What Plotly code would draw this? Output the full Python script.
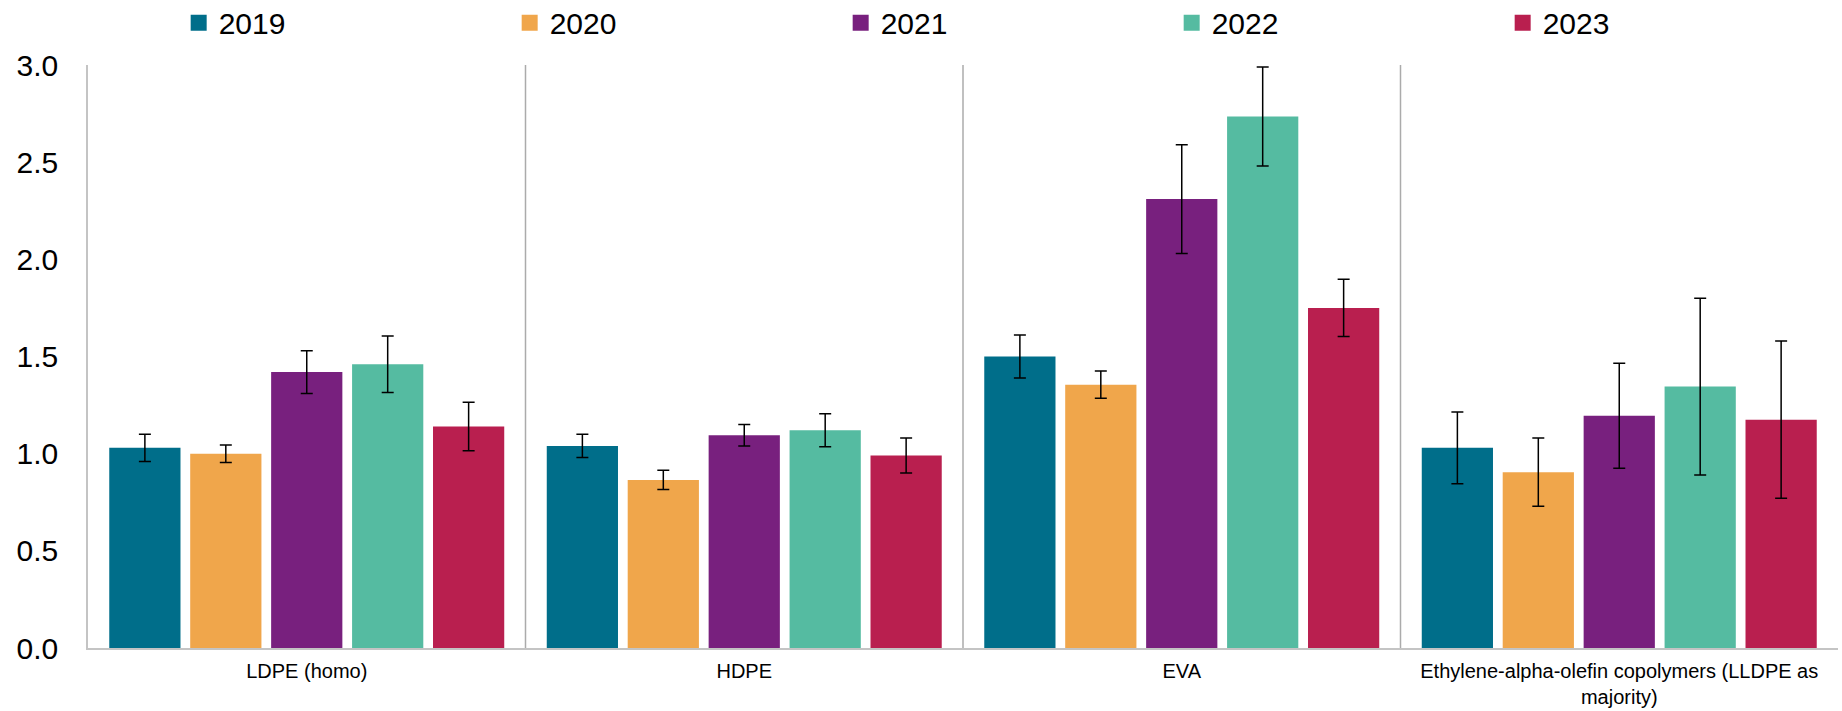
import plotly.graph_objects as go

categories = ["LDPE (homo)", "HDPE", "EVA",
              "Ethylene-alpha-olefin copolymers (LLDPE as<br>majority)"]
years = ["2019", "2020", "2021", "2022", "2023"]

values_2019 = [1.03, 1.04, 1.50, 1.03]
values_2020 = [1.00, 0.865, 1.355, 0.905]
values_2021 = [1.42, 1.095, 2.31, 1.195]
values_2022 = [1.46, 1.12, 2.735, 1.345]
values_2023 = [1.14, 0.99, 1.75, 1.175]

err_2019 = [0.07, 0.06, 0.11, 0.185]
err_2020 = [0.045, 0.05, 0.07, 0.175]
err_2021 = [0.11, 0.055, 0.28, 0.27]
err_2022 = [0.145, 0.085, 0.255, 0.455]
err_2023 = [0.125, 0.09, 0.147, 0.405]

colors = ["#006E8A", "#F0A64B", "#78207E", "#55BBA1", "#B91F4F"]

values = [values_2019, values_2020, values_2021, values_2022, values_2023]
errors = [err_2019, err_2020, err_2021, err_2022, err_2023]

FONT = "Arial, Liberation Sans, sans-serif"

fig = go.Figure()
for yr, vals, errs, col in zip(years, values, errors, colors):
    fig.add_trace(go.Bar(
        x=categories, y=vals, name=yr, showlegend=False,
        marker=dict(color=col, line=dict(width=0)),
        error_y=dict(type="data", array=errs, visible=True,
                     color="black", thickness=1.5, width=6),
    ))
# legend proxies (larger square symbols)
for yr, col in zip(years, colors):
    fig.add_trace(go.Scatter(
        x=[None], y=[None], name=yr, mode="markers",
        marker=dict(symbol="square", size=16, color=col),
    ))

# category separators
for xs in [0.5, 1.5, 2.5]:
    fig.add_shape(type="line", xref="x", yref="y", x0=xs, x1=xs, y0=0, y1=3,
                  line=dict(color="#ABABAB", width=1.5), layer="below")

fig.update_layout(
    autosize=True,
    margin=dict(l=88, r=4, t=65, b=63, autoexpand=False),
    paper_bgcolor="white", plot_bgcolor="white",
    font=dict(family=FONT, color="black"),
    barmode="group", bargap=0.075, bargroupgap=0.12,
    legend=dict(orientation="h", xref="container", x=0.097, xanchor="left",
                yref="container", y=0.968, yanchor="middle",
                entrywidth=286, entrywidthmode="pixels",
                font=dict(size=30, family=FONT, color="black"),
                itemclick=False, traceorder="normal"),
    xaxis=dict(showgrid=False, showline=True, linecolor="#C4C4C4", linewidth=1.5,
               ticks="", tickfont=dict(size=20, family=FONT, color="black"),
               range=[-0.5, 3.5], ticklabelstandoff=4, automargin=False),
    yaxis=dict(range=[0, 3], dtick=0.5, tickformat=".1f", showgrid=False,
               showline=True, linecolor="#C4C4C4", linewidth=1.5, ticks="",
               zeroline=False, automargin=False,
               tickfont=dict(size=30, family=FONT, color="black"),
               ticklabelstandoff=22),
)

fig.write_html("out.html", default_width="100%", default_height="100%",
               config={"displayModeBar": False},
               post_script="document.body.style.margin='0';"
                           "document.documentElement.style.height='100%';"
                           "document.body.style.height='100%';"
                           "window.dispatchEvent(new Event('resize'));")
